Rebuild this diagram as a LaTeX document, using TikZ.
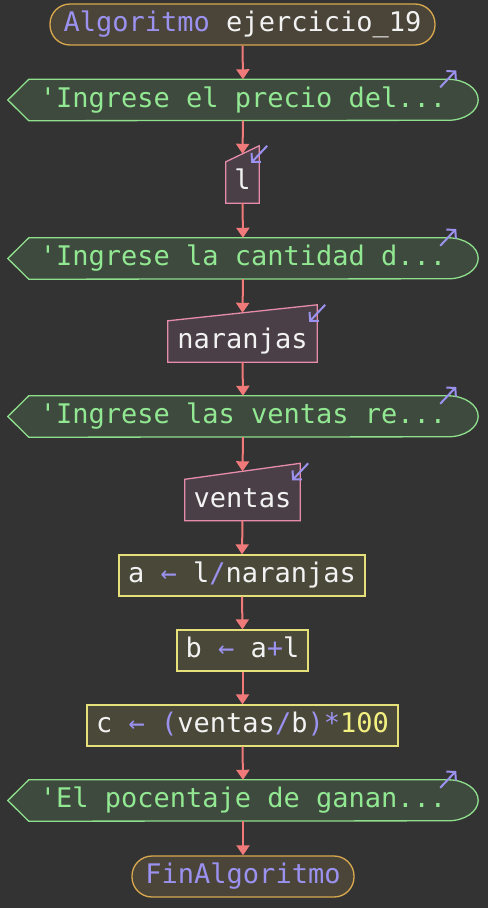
\documentclass[tikz,border=0pt]{standalone}
\usepackage{fontspec}
\setmonofont{DejaVu Sans Mono}
\usetikzlibrary{arrows.meta,backgrounds}

\definecolor{bg}{HTML}{333333}
\definecolor{termfill}{HTML}{4A4439}
\definecolor{termline}{HTML}{D9A94E}
\definecolor{outfill}{HTML}{3E4A3D}
\definecolor{outline}{HTML}{8EE08C}
\definecolor{outtext}{HTML}{92E892}
\definecolor{infill}{HTML}{4A3F47}
\definecolor{inline}{HTML}{E68CAA}
\definecolor{procfill}{HTML}{4A4839}
\definecolor{procline}{HTML}{E6E07A}
\definecolor{kw}{HTML}{9B92F0}
\definecolor{txt}{HTML}{F2F2F2}
\definecolor{num}{HTML}{F2F080}
\definecolor{flowc}{HTML}{F07A7A}

\tikzset{
  base/.style={inner sep=0pt, text height=19pt, text depth=5pt, minimum height=41pt, anchor=center},
  term/.style={base, draw=termline, fill=termfill, line width=1.3pt, rounded corners=20pt, text=txt},
  outnode/.style={base, minimum width=470pt, text=outtext},
  innode/.style={base, text=txt},
  proc/.style={base, draw=procline, fill=procfill, line width=1.3pt, text=txt},
  outshape/.style={draw=outline, fill=outfill, line width=1.3pt},
  inshape/.style={draw=inline, fill=infill, line width=1.3pt},
  flow/.style={draw=flowc, line width=2pt, -{Triangle[width=13pt,length=10pt]}},
  icon/.style={draw=kw, line width=2pt, -{Straight Barb[length=6pt,width=13pt]}}
}

\newcommand\kwd[1]{\textcolor{kw}{#1}}

% output (display) symbol around a node
\newcommand\outpath[1]{%
  \path[outshape] (#1.west) -- ([xshift=21pt]#1.north west)
    -- ([xshift=-30pt]#1.north east)
    arc[start angle=90, end angle=-90, x radius=30pt, y radius=20.5pt]
    -- ([xshift=21pt]#1.south west) -- cycle;}
% manual input symbol: slanted top, raised on the right
\newcommand\inpath[1]{%
  \path[inshape] (#1.south west) -- (#1.south east)
    -- ([yshift=16pt]#1.north east) -- (#1.north west) -- cycle;}
\newcommand\outicon[1]{%
  \draw[icon] ([xshift=-38pt,yshift=-8pt]#1.north east) -- ([xshift=-22pt,yshift=9pt]#1.north east);}
\newcommand\inicon[1]{%
  \draw[icon] ([xshift=8pt,yshift=16pt]#1.north east) -- ([xshift=-8pt,yshift=-1pt]#1.north east);}

\begin{document}
\begin{tikzpicture}[x=1pt, y=-1pt, font=\ttfamily\fontsize{27}{30}\selectfont]
\useasboundingbox (0,0) rectangle (488,908);

\node[term, minimum width=385pt] (start) at (242.5,24.5) {\kwd{Algoritmo} ejercicio\_19};
\node[outnode] (o1) at (243,100) {'Ingrese el precio del...};
\node[innode, minimum width=33pt] (i1) at (242.5,182.5) {l};
\node[outnode] (o2) at (243,258.5) {'Ingrese la cantidad d...};
\node[innode, minimum width=149pt] (i2) at (242.5,341.5) {naranjas};
\node[outnode] (o3) at (243,416.5) {'Ingrese las ventas re...};
\node[innode, minimum width=115pt] (i3) at (242.5,500) {ventas};
\node[proc, minimum width=246pt] (pa) at (242,575.5) {a \kwd{←} l\kwd{/}naranjas};
\node[proc, minimum width=131pt] (pb) at (242.5,650.5) {b \kwd{←} a\kwd{+}l};
\node[proc, minimum width=311pt] (pc) at (242.5,725.5) {c \kwd{←} \kwd{(}ventas\kwd{/}b\kwd{)*}\textcolor{num}{100}};
\node[outnode] (o4) at (243,800.5) {'El pocentaje de ganan...};
\node[term, minimum width=222pt, text=kw] (fin) at (243,876.5) {FinAlgoritmo};

\begin{scope}[on background layer]
  \fill[bg] (0,0) rectangle (488,908);
  \outpath{o1} \outpath{o2} \outpath{o3} \outpath{o4}
  \inpath{i1} \inpath{i2} \inpath{i3}
\end{scope}

\outicon{o1} \outicon{o2} \outicon{o3} \outicon{o4}
\inicon{i1} \inicon{i2} \inicon{i3}

\draw[flow] (start.south) -- (o1.north);
\draw[flow] (o1.south) -- ([yshift=8pt]i1.north);
\draw[flow] (i1.south) -- (o2.north);
\draw[flow] (o2.south) -- ([yshift=8pt]i2.north);
\draw[flow] (i2.south) -- (o3.north);
\draw[flow] (o3.south) -- ([yshift=8pt]i3.north);
\draw[flow] (i3.south) -- (pa.north);
\draw[flow] (pa.south) -- (pb.north);
\draw[flow] (pb.south) -- (pc.north);
\draw[flow] (pc.south) -- (o4.north);
\draw[flow] (o4.south) -- (fin.north);
\end{tikzpicture}
\end{document}
